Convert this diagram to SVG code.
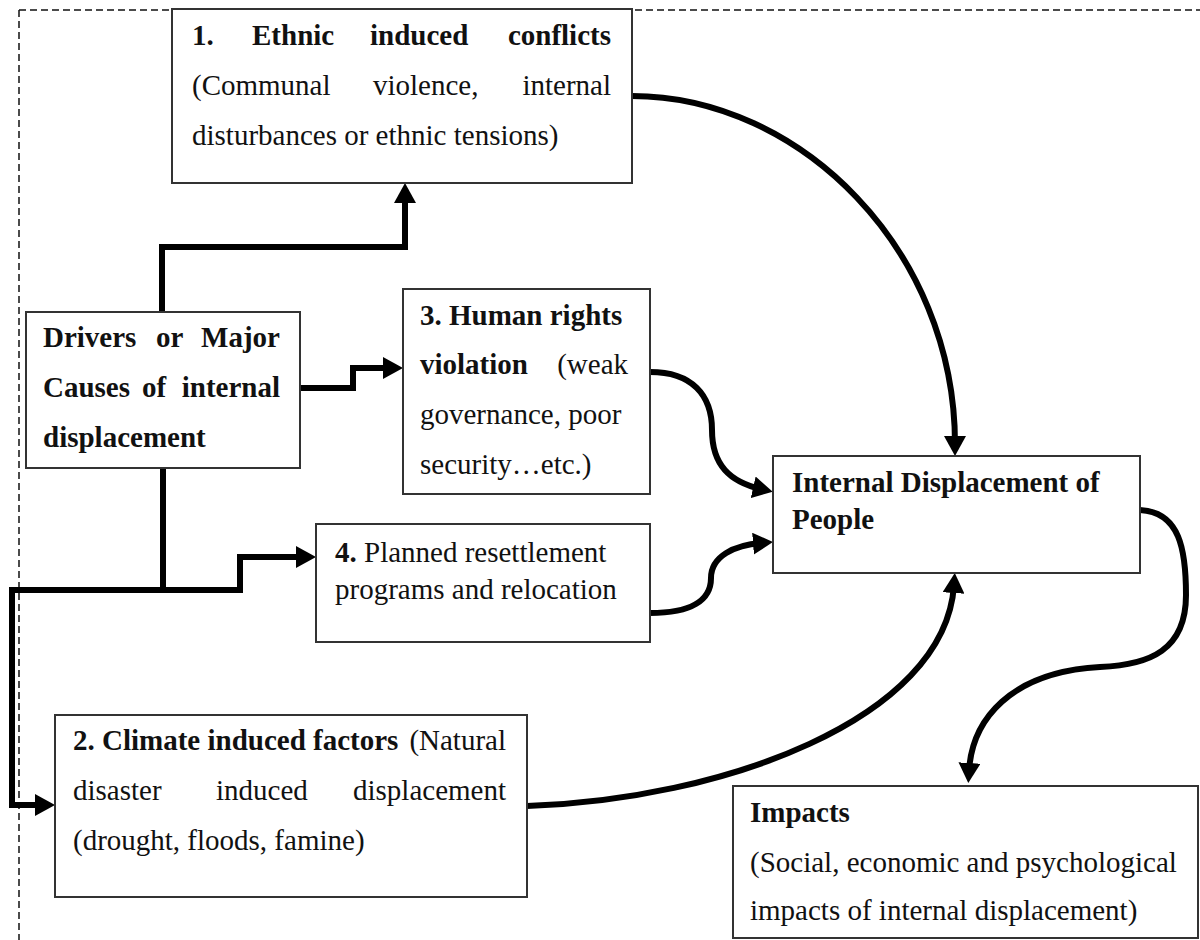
<svg xmlns="http://www.w3.org/2000/svg" width="1200" height="940" viewBox="0 0 1200 940">
<style>
  .box { fill: #ffffff; stroke: #333333; stroke-width: 2; }
  .t { font-family: "Liberation Serif", "Times New Roman", serif; font-size: 29px; fill: #111111; }
  .b { font-weight: bold; }
  .e { text-anchor: end; }
  .conn { fill: none; stroke: #000000; stroke-width: 6; stroke-linejoin: miter; }
  .dash { fill: none; stroke: #111111; stroke-width: 1.5; stroke-dasharray: 7 4; }
</style>
<defs>
  <marker id="arrow" markerUnits="userSpaceOnUse" markerWidth="20" markerHeight="22" refX="8" refY="11" orient="auto">
    <path d="M0,0 L20,11 L0,22 Z" fill="#000000"/>
  </marker>
</defs>
<rect x="0" y="0" width="1200" height="940" fill="#ffffff"/>

<g id="frame">
  <path class="dash" d="M19,10 H1200"/>
  <path class="dash" d="M19,10 V940"/>
</g>

<g id="connectors">
  <path class="conn" d="M162,312 V247 H405 V195" marker-end="url(#arrow)"/>
  <path class="conn" d="M300,388 H353 V368 H391" marker-end="url(#arrow)"/>
  <path class="conn" d="M163,468 V590"/>
  <path class="conn" d="M9,590 H240 V557 H304" marker-end="url(#arrow)"/>
  <path class="conn" d="M12,587 V805 H43" marker-end="url(#arrow)"/>
  <path class="conn" d="M632,96 C800,96 955,250 955,444" marker-end="url(#arrow)"/>
  <path class="conn" d="M650,372 C692,372 712,395 712,430 C712,465 730,482 761,489" marker-end="url(#arrow)"/>
  <path class="conn" d="M650,613 C692,613 711,600 711,578 C711,556 735,545 761,543" marker-end="url(#arrow)"/>
  <path class="conn" d="M527,806 C720,800 945,720 954,585" marker-end="url(#arrow)"/>
  <path class="conn" d="M1140,510 C1180,512 1186,550 1186,595 C1186,650 1150,665 1100,667 C1010,672 972,720 969,771" marker-end="url(#arrow)"/>
</g>

<g id="node-ethnic">
  <rect class="box" x="172" y="9" width="460" height="174"/>
  <text class="t b" x="192" y="45">1.</text>
  <text class="t b" x="252" y="45">Ethnic</text>
  <text class="t b" x="370" y="45">induced</text>
  <text class="t b e" x="611" y="45">conflicts</text>
  <text class="t" x="192" y="95">(Communal</text>
  <text class="t" x="373" y="95">violence,</text>
  <text class="t e" x="611" y="95">internal</text>
  <text class="t" x="192" y="145">disturbances or ethnic tensions)</text>
</g>

<g id="node-drivers">
  <rect class="box" x="26" y="312" width="274" height="156"/>
  <text class="t b" x="43" y="347">Drivers</text>
  <text class="t b" x="156" y="347">or</text>
  <text class="t b e" x="280" y="347">Major</text>
  <text class="t b" x="43" y="397">Causes</text>
  <text class="t b" x="142" y="397">of</text>
  <text class="t b e" x="280" y="397">internal</text>
  <text class="t b" x="43" y="447">displacement</text>
</g>

<g id="node-human-rights">
  <rect class="box" x="403" y="289" width="247" height="205"/>
  <text class="t b" x="420" y="325">3. Human rights</text>
  <text class="t b" x="420" y="374">violation</text>
  <text class="t e" x="628" y="374">(weak</text>
  <text class="t" x="420" y="424">governance, poor</text>
  <text class="t" x="420" y="474">security…etc.)</text>
</g>

<g id="node-resettlement">
  <rect class="box" x="316" y="524" width="334" height="118"/>
  <text class="t" x="335" y="562"><tspan class="b">4.</tspan> Planned resettlement</text>
  <text class="t" x="335" y="599">programs and relocation</text>
</g>

<g id="node-climate">
  <rect class="box" x="55" y="715" width="472" height="182"/>
  <text class="t b" x="73" y="750">2. Climate induced factors</text>
  <text class="t e" x="506" y="750">(Natural</text>
  <text class="t" x="73" y="800">disaster</text>
  <text class="t" x="216" y="800">induced</text>
  <text class="t e" x="506" y="800">displacement</text>
  <text class="t" x="73" y="850">(drought, floods, famine)</text>
</g>

<g id="node-idp">
  <rect class="box" x="773" y="456" width="367" height="117"/>
  <text class="t b" x="792" y="492">Internal Displacement of</text>
  <text class="t b" x="792" y="529">People</text>
</g>

<g id="node-impacts">
  <rect class="box" x="733" y="786" width="465" height="152"/>
  <text class="t b" x="750" y="822">Impacts</text>
  <text class="t" x="750" y="872">(Social, economic and psychological</text>
  <text class="t" x="750" y="920">impacts of internal displacement)</text>
</g>
</svg>
